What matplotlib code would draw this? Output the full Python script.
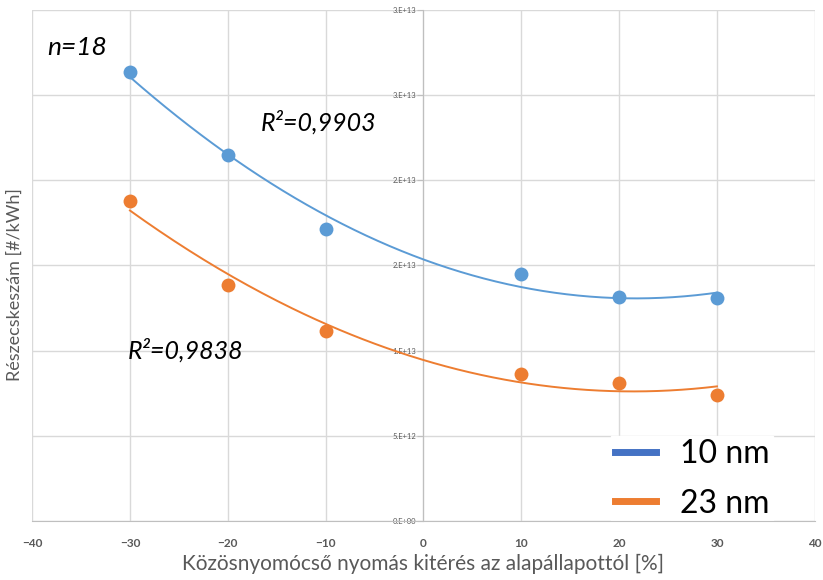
import numpy as np
import matplotlib
matplotlib.use("Agg")
import matplotlib.pyplot as plt
from matplotlib.lines import Line2D

plt.rcParams['font.family'] = ['Lato', 'DejaVu Sans']

x_vals = [-30, -20, -10, 10, 20, 30]
y_10nm = [2.635e13, 2.148e13, 1.714e13, 1.45e13, 1.315e13, 1.309e13]
y_23nm = [1.878e13, 1.385e13, 1.115e13, 0.863e13, 0.81e13, 0.739e13]
series_names = ["10 nm", "23 nm"]
x_ticks = [-40, -30, -20, -10, 0, 10, 20, 30, 40]
y_ticks = [0, 5e12, 1e13, 1.5e13, 2e13, 2.5e13, 3e13]
y_tick_labels = ["0.E+00", "5.E+12", "1.E+13", "2.E+13", "2.E+13", "3.E+13", "3.E+13"]

marker_blue = "#5B9BD5"
marker_orange = "#ED7D31"
legend_blue = "#4472C4"
grid_c = "#D9D9D9"
text_gray = "#595959"

fig = plt.figure(figsize=(8.23, 5.8), dpi=100)
ax = fig.add_axes([0.039, 0.102, 0.951, 0.881])

xs = np.array(x_vals, dtype=float)
xf = np.linspace(-30, 30, 200)
for ys, c in [(y_10nm, marker_blue), (y_23nm, marker_orange)]:
    coef = np.polyfit(xs, np.array(ys), 2)
    ax.plot(xf, np.polyval(coef, xf), color=c, lw=1.4, zorder=3)
    ax.plot(xs, ys, 'o', color=c, ms=10, mec='none', zorder=4)

ax.set_xlim(-40, 40)
ax.set_ylim(0, 3e13)
ax.set_xticks(x_ticks)
ax.set_yticks(y_ticks)
ax.set_yticklabels(y_tick_labels)
ax.grid(True, color=grid_c, lw=1)
ax.set_axisbelow(True)

for s in ['top', 'right']:
    ax.spines[s].set_visible(False)
ax.spines['left'].set_position(('data', 0))
ax.spines['left'].set_color('#BFBFBF')
ax.spines['bottom'].set_color('#BFBFBF')
ax.tick_params(axis='y', length=4, color='#BFBFBF', labelsize=5.5, labelcolor=text_gray, pad=1)
ax.tick_params(axis='x', length=0, labelsize=8.5, labelcolor=text_gray, pad=12)
for lab in ax.get_xticklabels():
    lab.set_fontweight('bold')

ax.set_xlabel("Közösnyomócső nyomás kitérés az alapállapottól [%]", fontsize=15, color=text_gray, labelpad=4)
fig.text(0.018, 0.509, "Részecskeszám [#/kWh]", rotation=90, fontsize=13, color=text_gray, ha='center', va='center')

ax.text(-35.4, 2.78e13, "n=18", fontsize=19, style='italic', ha='center', va='center')
ax.text(-10.7, 2.34e13, "R²=0,9903", fontsize=18, style='italic', ha='center', va='center')
ax.text(-24.3, 1.0e13, "R²=0,9838", fontsize=18, style='italic', ha='center', va='center')

handles = [Line2D([0], [0], color=legend_blue, lw=5),
           Line2D([0], [0], color=marker_orange, lw=5)]
leg = ax.legend(handles, series_names, loc='lower right', bbox_to_anchor=(0.967, -0.033),
                fontsize=23, frameon=True, fancybox=False, framealpha=1,
                edgecolor='white', handlelength=1.3, handletextpad=0.75,
                labelspacing=0.62, borderpad=0.1)
leg.set_zorder(2.0)

fig.savefig("out.png", dpi=100)
